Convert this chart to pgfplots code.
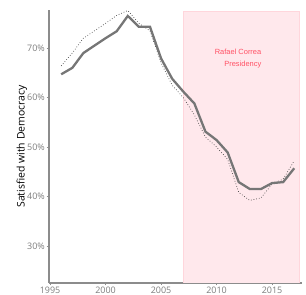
\documentclass[border=0pt]{standalone}
\usepackage{pgfplots}
\pgfplotsset{compat=1.18}
\usepackage{fontspec}
\setmainfont{Open Sans}
\newfontfamily\annfont{Liberation Sans}
\definecolor{spine}{RGB}{140,140,140}
\definecolor{ticklab}{RGB}{125,125,125}
\definecolor{shadecol}{RGB}{255,232,236}
\definecolor{shadeedge}{RGB}{255,214,220}
\definecolor{anntext}{RGB}{255,80,100}
\definecolor{mainline}{RGB}{118,118,118}
\definecolor{dotline}{RGB}{70,70,70}
\begin{document}
\begin{tikzpicture}
\begin{axis}[
  name=ax,
  scale only axis,
  width=253bp, height=273bp,
  xmin=1994.9, xmax=2017.7,
  ymin=22.5, ymax=77.7,
  axis x line*=bottom, axis y line*=left,
  axis line style={spine, line width=1.3bp, -},
  xtick={1995,2000,2005,2010,2015},
  ytick={30,40,50,60,70},
  yticklabel={\pgfmathprintnumber{\tick}\%},
  xticklabel style={/pgf/number format/1000 sep={}, inner sep=1.2bp},
  yticklabel style={inner sep=1.5bp},
  /pgf/number format/assume math mode=true,
  tick style={spine, line width=0.6bp},
  tick align=outside,
  major tick length=2.5bp,
  ticklabel style={font=\fontsize{9}{10}\selectfont, text=ticklab},
  ylabel={Satisfied with Democracy},
  every axis y label/.style={at={(axis description cs:-0.1067,0.5)}, rotate=90, anchor=center, font=\fontsize{10.5}{11}\selectfont, text=black},
]
\fill[shadecol, draw=shadeedge, line width=0.6bp] (axis cs:2007,22.5) rectangle (axis cs:2017.45,77.5);
\node[anchor=base east, font=\annfont\fontsize{7.5}{9}\selectfont, text=anntext, inner sep=0] at (axis cs:2014.05,68.73) {Rafael Correa};
\node[anchor=base east, font=\annfont\fontsize{7.5}{9}\selectfont, text=anntext, inner sep=0] at (axis cs:2014.05,66.36) {Presidency};
\addplot[dotline, line width=0.7bp, dotted] coordinates {
(1996,66.4) (1997,69.0) (1998,72.0) (1999,73.5) (2000,75.0) (2001,76.6) (2002,77.6)
(2003,75.0) (2004,73.5) (2005,67.0) (2006,62.5) (2007,60.0) (2008,56.5) (2009,52.0)
(2010,50.0) (2011,47.5) (2012,40.8) (2013,39.2) (2014,39.7) (2015,42.5) (2016,43.5) (2017,47.2)
};
\addplot[mainline, line width=2.3bp] coordinates {
(1996,64.7) (1997,66.0) (1998,69.0) (1999,70.5) (2000,72.0) (2001,73.4) (2002,76.5)
(2003,74.3) (2004,74.3) (2005,67.9) (2006,63.8) (2007,61.2) (2008,58.8) (2009,53.1)
(2010,51.4) (2011,48.9) (2012,42.9) (2013,41.5) (2014,41.5) (2015,42.7) (2016,42.9) (2017,45.7)
};
\end{axis}
\path[use as bounding box] ([xshift=-49bp,yshift=-12bp]ax.south west) rectangle ([xshift=4bp,yshift=10bp]ax.north east);
\end{tikzpicture}
\end{document}
